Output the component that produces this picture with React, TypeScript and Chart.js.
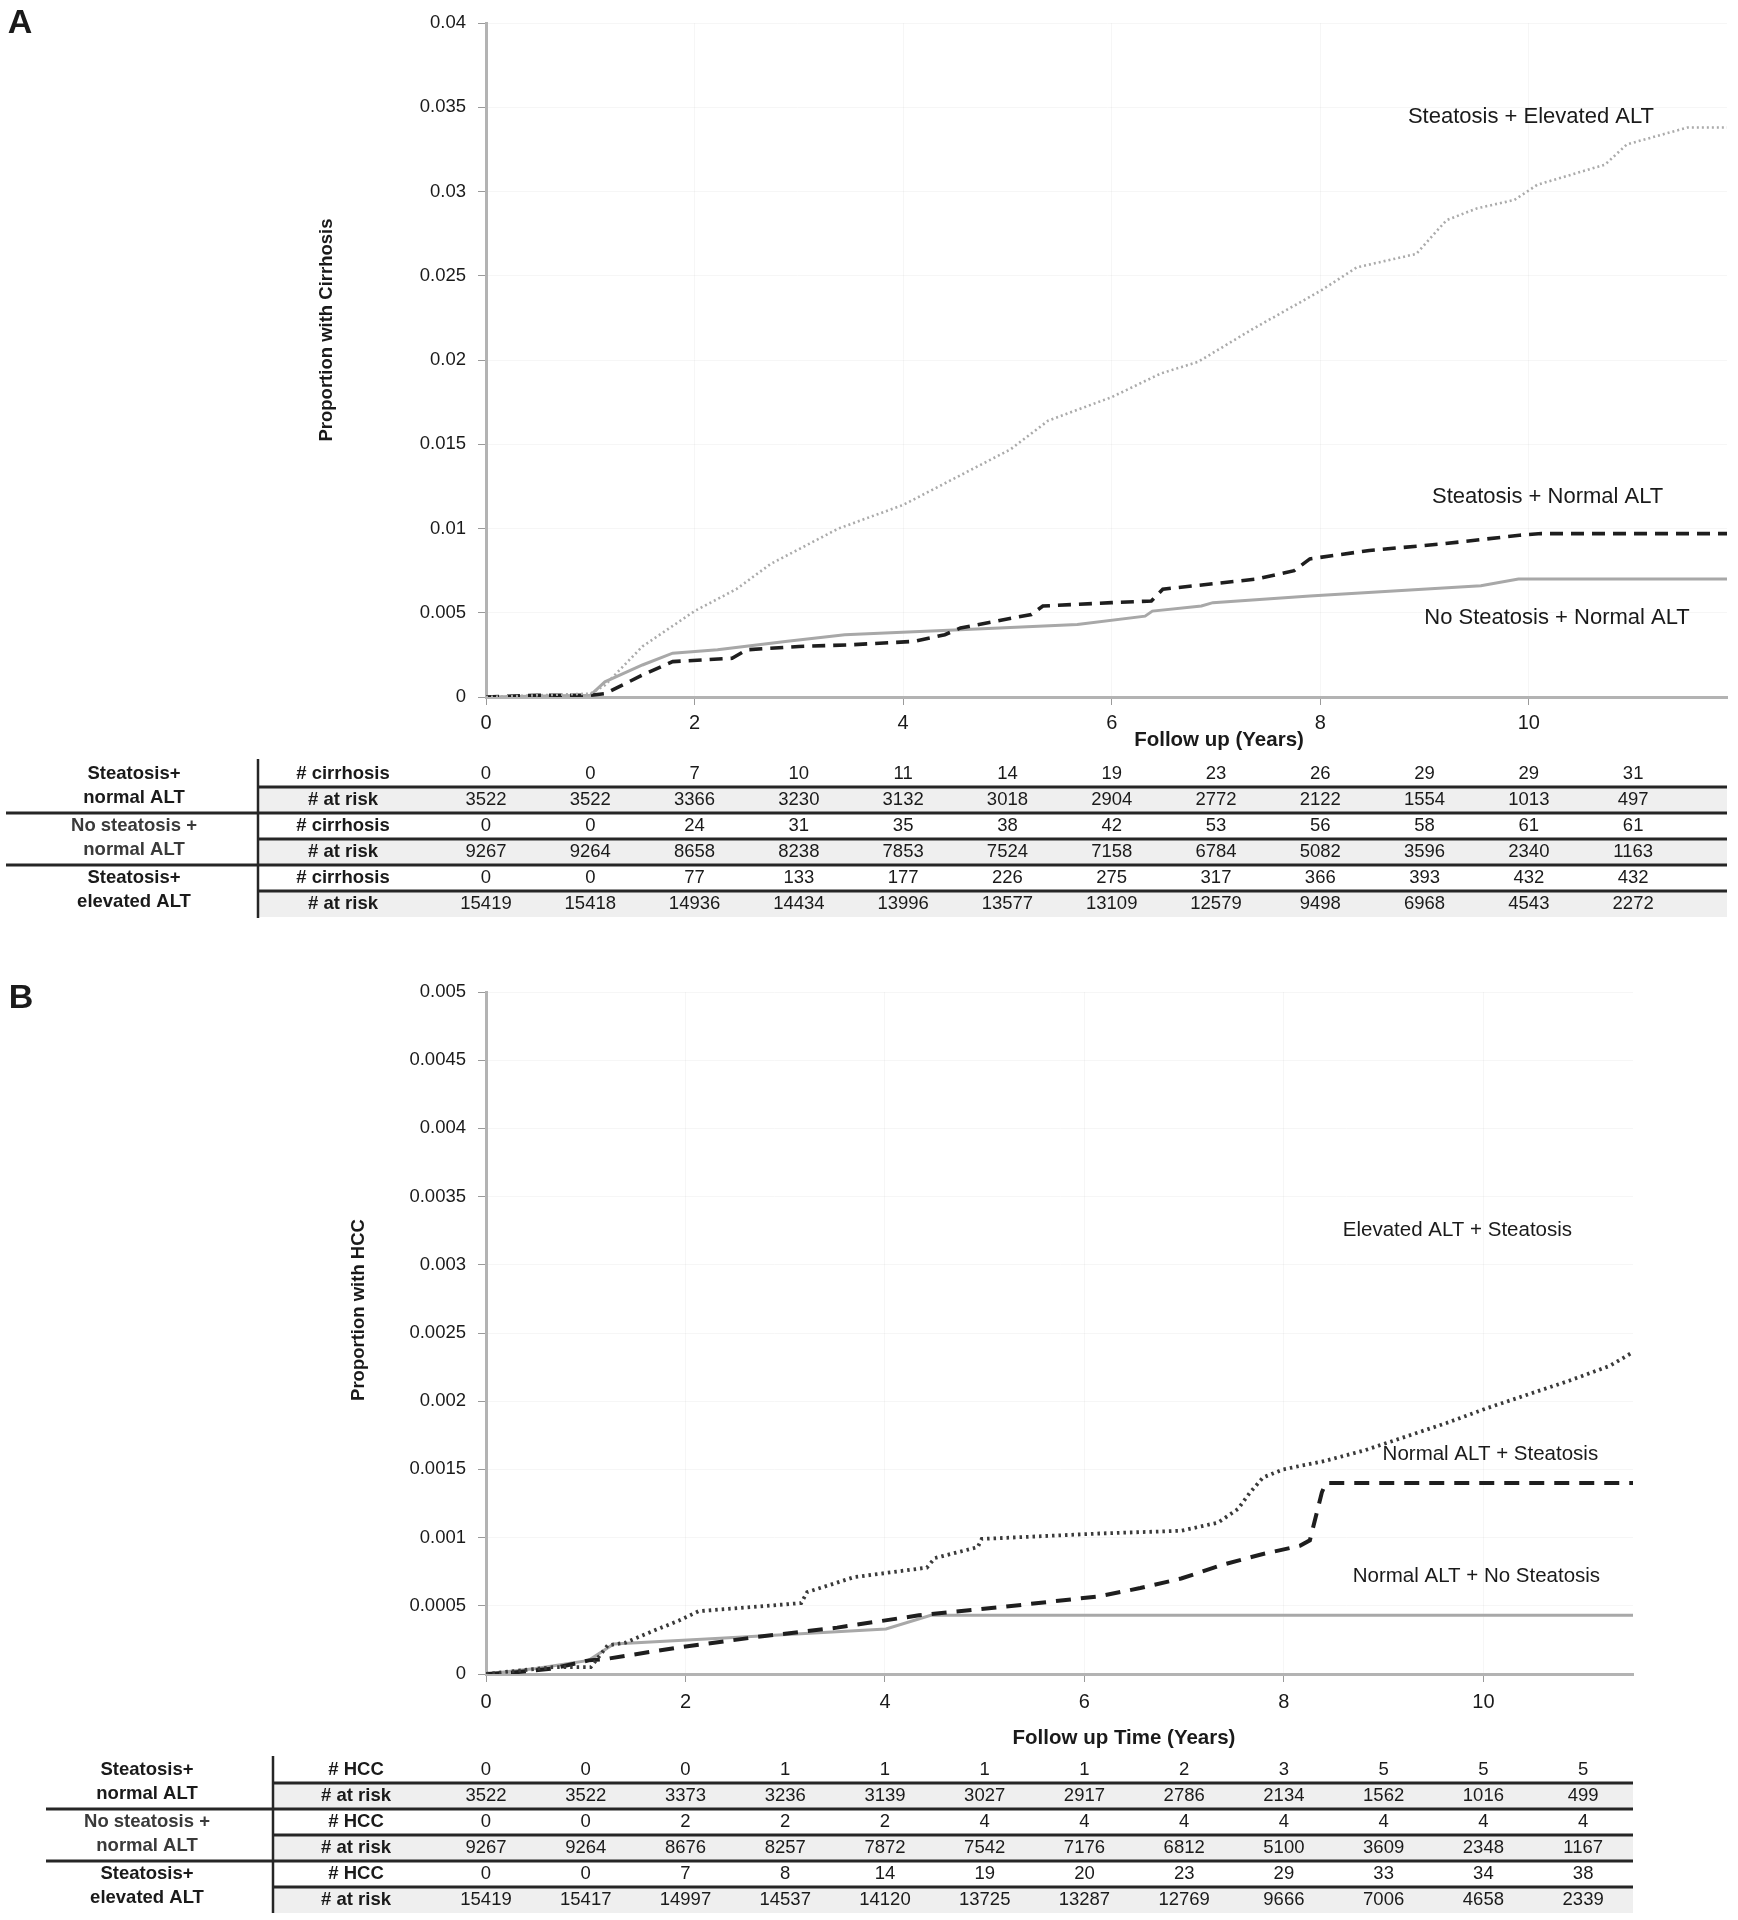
import React, { useEffect, useRef } from 'react';
import { Chart, registerables } from 'chart.js';

Chart.register(...registerables);

const FONT = "'Liberation Sans', Arial, Helvetica, sans-serif";

// ---------- Panel A : cirrhosis ----------
const cirrElevT = [0, 0.5, 1.0, 1.14, 1.5, 2.0, 2.4, 2.73, 3.38, 4.0, 4.53, 5.03, 5.39, 6.0, 6.47, 6.83, 7.34, 8.0, 8.35, 8.92, 9.21, 9.5, 9.86, 10.08, 10.73, 10.94, 11.52, 11.9];
const cirrElevP = [0, 0.0001, 0.0002, 0.0007, 0.003, 0.0051, 0.0064, 0.0079, 0.01, 0.0114, 0.0131, 0.0147, 0.0164, 0.0178, 0.0192, 0.0199, 0.0218, 0.0241, 0.0255, 0.0263, 0.0283, 0.029, 0.0295, 0.0304, 0.0316, 0.0328, 0.0338, 0.0338];

const cirrNormT = [0, 0.5, 1.0, 1.14, 1.5, 1.79, 2.36, 2.5, 3.0, 3.5, 4.1, 4.4, 4.55, 5.23, 5.34, 6.0, 6.38, 6.49, 7.39, 7.75, 7.9, 8.47, 9.19, 9.91, 10.12, 11.9];
const cirrNormP = [0, 0.0001, 0.0001, 0.0002, 0.0013, 0.0021, 0.0023, 0.0028, 0.003, 0.0031, 0.0033, 0.0037, 0.0041, 0.0049, 0.0054, 0.0056, 0.0057, 0.0064, 0.007, 0.0075, 0.0082, 0.0087, 0.0091, 0.0096, 0.0097, 0.0097];

const cirrNoT = [0, 1.0, 1.14, 1.5, 1.79, 2.22, 2.87, 3.44, 4.6, 5.67, 6.32, 6.39, 6.86, 6.97, 7.9, 9.54, 9.9, 11.9];
const cirrNoP = [0, 0.0001, 0.0009, 0.0019, 0.0026, 0.0028, 0.0033, 0.0037, 0.004, 0.0043, 0.0048, 0.0051, 0.0054, 0.0056, 0.006, 0.0066, 0.007, 0.007];

const cirrNormalEvents = [0, 0, 7, 10, 11, 14, 19, 23, 26, 29, 29, 31];
const cirrNormalAtRisk = [3522, 3522, 3366, 3230, 3132, 3018, 2904, 2772, 2122, 1554, 1013, 497];
const cirrNoSteatEvents = [0, 0, 24, 31, 35, 38, 42, 53, 56, 58, 61, 61];
const cirrNoSteatAtRisk = [9267, 9264, 8658, 8238, 7853, 7524, 7158, 6784, 5082, 3596, 2340, 1163];
const cirrElevEvents = [0, 0, 77, 133, 177, 226, 275, 317, 366, 393, 432, 432];
const cirrElevAtRisk = [15419, 15418, 14936, 14434, 13996, 13577, 13109, 12579, 9498, 6968, 4543, 2272];

// ---------- Panel B : HCC ----------
const hccElevT = [0, 0.26, 0.67, 1.05, 1.22, 1.4, 1.69, 1.93, 2.13, 3.16, 3.22, 3.69, 4.42, 4.5, 4.93, 4.97, 6.15, 6.97, 7.34, 7.54, 7.66, 7.79, 7.99, 8.4, 8.81, 9.22, 9.63, 10.04, 10.45, 10.86, 11.27, 11.5];
const hccElevP = [0, 0.00002, 0.00005, 0.00005, 0.00021, 0.00023, 0.00032, 0.00039, 0.00046, 0.00052, 0.0006, 0.00071, 0.00078, 0.00085, 0.00093, 0.00099, 0.00103, 0.00105, 0.00111, 0.00121, 0.00133, 0.00144, 0.0015, 0.00156, 0.00164, 0.00174, 0.00184, 0.00195, 0.00205, 0.00215, 0.00226, 0.00236];

const hccNormT = [0, 0.26, 0.67, 1.03, 1.2, 1.89, 2.7, 3.52, 4.34, 5.16, 6.15, 6.56, 6.97, 7.38, 7.79, 8.16, 8.26, 8.38, 8.42, 11.5];
const hccNormP = [0, 0.00001, 0.00004, 0.0001, 0.00011, 0.00019, 0.00027, 0.00034, 0.00043, 0.00049, 0.00057, 0.00063, 0.0007, 0.0008, 0.00088, 0.00094, 0.00098, 0.00133, 0.0014, 0.0014];

const hccNoT = [0, 0.5, 1.03, 1.28, 2.3, 4.01, 4.46, 11.5];
const hccNoP = [0, 0.00004, 0.0001, 0.00022, 0.00026, 0.00033, 0.00043, 0.00043];

const hccNormalEvents = [0, 0, 0, 1, 1, 1, 1, 2, 3, 5, 5, 5];
const hccNormalAtRisk = [3522, 3522, 3373, 3236, 3139, 3027, 2917, 2786, 2134, 1562, 1016, 499];
const hccNoSteatEvents = [0, 0, 2, 2, 2, 4, 4, 4, 4, 4, 4, 4];
const hccNoSteatAtRisk = [9267, 9264, 8676, 8257, 7872, 7542, 7176, 6812, 5100, 3609, 2348, 1167];
const hccElevEvents = [0, 0, 7, 8, 14, 19, 20, 23, 29, 33, 34, 38];
const hccElevAtRisk = [15419, 15417, 14997, 14537, 14120, 13725, 13287, 12769, 9666, 7006, 4658, 2339];

// table columns (years)
const tableYears = [0, 1, 2, 3, 4, 5, 6, 7, 8, 9, 10, 11];

const groupNames = [
  ['Steatosis+', 'normal ALT'],
  ['No steatosis +', 'normal ALT'],
  ['Steatosis+', 'elevated ALT'],
];

type Series = { label: string; x: number[]; y: number[]; color: string; width: number; dash: number[]; cap: CanvasLineCap };
type Note = { text: string; x: number; y: number };

type PanelCfg = {
  top: number; height: number; padTop: number; padRight: number; xAxisH: number;
  xMax: number; yMax: number; yStep: number; xTickPad: number;
  series: Series[]; notes: Note[]; noteSize: number;
  letter: string; letterX: number; letterY: number;
  xTitle: string; xTitleX: number; xTitleY: number;
  yTitle: string; yTitleX: number; yTitleY: number;
  eventLabel: string; groups: { events: number[]; atRisk: number[] }[];
  tRow0: number; tRowH: number; tVX: number; tVTop: number; tVBot: number; tGX0: number; tGroupX: number; tRowLabelX: number;
};

const panelA: PanelCfg = {
  top: 0, height: 935, padTop: 19, padRight: 11, xAxisH: 238,
  xMax: 11.9, yMax: 0.04, yStep: 0.005, xTickPad: 6,
  series: [
    { label: 'Steatosis + Elevated ALT', x: cirrElevT, y: cirrElevP, color: '#ababab', width: 2.6, dash: [2, 3], cap: 'butt' },
    { label: 'Steatosis + Normal ALT', x: cirrNormT, y: cirrNormP, color: '#1e1e1e', width: 3.6, dash: [13, 8], cap: 'butt' },
    { label: 'No Steatosis + Normal ALT', x: cirrNoT, y: cirrNoP, color: '#a8a8a8', width: 3, dash: [], cap: 'butt' },
  ],
  notes: [
    { text: 'Steatosis + Elevated ALT', x: 10.02, y: 0.03445 },
    { text: 'Steatosis + Normal ALT', x: 10.18, y: 0.01186 },
    { text: 'No Steatosis + Normal ALT', x: 10.27, y: 0.00472 },
  ],
  noteSize: 22,
  letter: 'A', letterX: 20, letterY: 24,
  xTitle: 'Follow up (Years)', xTitleX: 1219, xTitleY: 740,
  yTitle: 'Proportion with Cirrhosis', yTitleX: 327, yTitleY: 330,
  eventLabel: '# cirrhosis',
  groups: [
    { events: cirrNormalEvents, atRisk: cirrNormalAtRisk },
    { events: cirrNoSteatEvents, atRisk: cirrNoSteatAtRisk },
    { events: cirrElevEvents, atRisk: cirrElevAtRisk },
  ],
  tRow0: 774, tRowH: 26, tVX: 258, tVTop: 759, tVBot: 918, tGX0: 6, tGroupX: 134, tRowLabelX: 343,
};

const panelB: PanelCfg = {
  top: 960, height: 960, padTop: 32, padRight: 105, xAxisH: 246,
  xMax: 11.5, yMax: 0.005, yStep: 0.0005, xTickPad: 8,
  series: [
    { label: 'Elevated ALT + Steatosis', x: hccElevT, y: hccElevP, color: '#3a3a3a', width: 3.8, dash: [2.5, 4], cap: 'butt' },
    { label: 'Normal ALT + Steatosis', x: hccNormT, y: hccNormP, color: '#1e1e1e', width: 4, dash: [15, 10], cap: 'butt' },
    { label: 'Normal ALT + No Steatosis', x: hccNoT, y: hccNoP, color: '#a8a8a8', width: 3, dash: [], cap: 'butt' },
  ],
  notes: [
    { text: 'Elevated ALT + Steatosis', x: 9.74, y: 0.003255 },
    { text: 'Normal ALT + Steatosis', x: 10.07, y: 0.001613 },
    { text: 'Normal ALT + No Steatosis', x: 9.93, y: 0.000718 },
  ],
  noteSize: 20.5,
  letter: 'B', letterX: 21, letterY: 39,
  xTitle: 'Follow up Time (Years)', xTitleX: 1124, xTitleY: 778,
  yTitle: 'Proportion with HCC', yTitleX: 359, yTitleY: 350,
  eventLabel: '# HCC',
  groups: [
    { events: hccNormalEvents, atRisk: hccNormalAtRisk },
    { events: hccNoSteatEvents, atRisk: hccNoSteatAtRisk },
    { events: hccElevEvents, atRisk: hccElevAtRisk },
  ],
  tRow0: 810, tRowH: 26, tVX: 273, tVTop: 796, tVBot: 953, tGX0: 46, tGroupX: 147, tRowLabelX: 356,
};

function fmt(v: number): string {
  if (Math.abs(v) < 1e-12) return '0';
  return String(parseFloat(v.toFixed(5)));
}

function Panel({ cfg }: { cfg: PanelCfg }) {
  const ref = useRef<HTMLCanvasElement>(null);
  useEffect(() => {
    const p = cfg;
    const overlay = {
      id: 'overlay' + p.letter,
      afterDraw(chart: any) {
        const ctx: CanvasRenderingContext2D = chart.ctx;
        const xs = chart.scales.x;
        const ys = chart.scales.y;
        const right = chart.chartArea.right;
        ctx.save();
        ctx.fillStyle = '#1a1a1a';
        ctx.textAlign = 'center';
        ctx.textBaseline = 'middle';
        // curve labels
        ctx.font = `${p.noteSize}px ${FONT}`;
        p.notes.forEach((n) => ctx.fillText(n.text, xs.getPixelForValue(n.x), ys.getPixelForValue(n.y)));
        // panel letter
        ctx.font = `bold 34px ${FONT}`;
        ctx.fillText(p.letter, p.letterX, p.letterY);
        // axis titles
        ctx.font = `bold 20.5px ${FONT}`;
        ctx.fillText(p.xTitle, p.xTitleX, p.xTitleY);
        ctx.save();
        ctx.translate(p.yTitleX, p.yTitleY);
        ctx.rotate(-Math.PI / 2);
        ctx.font = `bold 18.5px ${FONT}`;
        ctx.fillText(p.yTitle, 0, 0);
        ctx.restore();

        // risk table
        const rowY = (i: number) => p.tRow0 + i * p.tRowH;
        const h = p.tRowH;
        ctx.fillStyle = '#efefef';
        for (let g = 0; g < 3; g++) {
          const i = 2 * g + 1;
          ctx.fillRect(p.tVX, rowY(i) - h / 2, right - p.tVX, h);
        }
        ctx.strokeStyle = '#262626';
        ctx.lineWidth = 3;
        for (let i = 0; i < 5; i++) {
          const y = rowY(i) + h / 2;
          const x0 = i % 2 === 0 ? p.tVX : p.tGX0;
          ctx.beginPath();
          ctx.moveTo(x0, y);
          ctx.lineTo(right, y);
          ctx.stroke();
        }
        ctx.lineWidth = 2.5;
        ctx.beginPath();
        ctx.moveTo(p.tVX, p.tVTop);
        ctx.lineTo(p.tVX, p.tVBot);
        ctx.stroke();

        p.groups.forEach((g, gi) => {
          const r0 = rowY(2 * gi);
          const r1 = rowY(2 * gi + 1);
          ctx.font = `bold 18.5px ${FONT}`;
          ctx.fillStyle = gi === 1 ? '#3a3a3a' : '#1a1a1a';
          ctx.fillText(groupNames[gi][0], p.tGroupX, r0);
          ctx.fillText(groupNames[gi][1], p.tGroupX, r1 - 2);
          ctx.fillStyle = '#1a1a1a';
          ctx.fillText(p.eventLabel, p.tRowLabelX, r0);
          ctx.fillText('# at risk', p.tRowLabelX, r1);
          ctx.font = `18.5px ${FONT}`;
          tableYears.forEach((yr, k) => {
            const x = xs.getPixelForValue(yr);
            ctx.fillText(String(g.events[k]), x, r0);
            ctx.fillText(String(g.atRisk[k]), x, r1);
          });
        });
        ctx.restore();
      },
    };

    const chart = new Chart(ref.current as HTMLCanvasElement, {
      type: 'line',
      data: {
        datasets: p.series.map((s) => ({
          label: s.label,
          data: s.x.map((x, i) => ({ x, y: s.y[i] })),
          borderColor: s.color,
          borderWidth: s.width,
          borderDash: s.dash,
          borderCapStyle: s.cap,
          pointRadius: 0,
          tension: 0,
          fill: false,
        })),
      },
      options: {
        responsive: false,
        maintainAspectRatio: false,
        animation: false,
        devicePixelRatio: 1,
        layout: { padding: { left: 0, right: p.padRight, top: p.padTop, bottom: 0 } },
        plugins: { legend: { display: false }, tooltip: { enabled: false }, title: { display: false } },
        scales: {
          x: {
            type: 'linear',
            min: 0,
            max: p.xMax,
            afterFit: (s: any) => { s.height = p.xAxisH; },
            ticks: {
              stepSize: 2,
              includeBounds: false,
              maxRotation: 0,
              autoSkip: false,
              padding: p.xTickPad,
              color: '#1a1a1a',
              font: { family: FONT, size: 20 },
            },
            grid: { color: 'rgba(0,0,0,0.035)', tickColor: '#9a9a9a', tickLength: 8 },
            border: { color: '#b3b3b3', width: 3 },
          },
          y: {
            type: 'linear',
            min: 0,
            max: p.yMax,
            afterFit: (s: any) => { s.width = 486; },
            ticks: {
              stepSize: p.yStep,
              padding: 12,
              color: '#1a1a1a',
              font: { family: FONT, size: 18.5 },
              callback: (v: any) => fmt(Number(v)),
            },
            grid: { color: 'rgba(0,0,0,0.035)', tickColor: '#9a9a9a', tickLength: 8 },
            border: { color: '#b3b3b3', width: 3 },
          },
        },
      } as any,
      plugins: [overlay],
    });
    return () => chart.destroy();
  }, [cfg]);
  return (
    <canvas
      ref={ref}
      width={1738}
      height={cfg.height}
      style={{ position: 'absolute', left: 0, top: cfg.top, width: 1738, height: cfg.height, display: 'block' }}
    />
  );
}

export default function App() {
  return (
    <div style={{ position: 'absolute', left: 0, top: 0, width: 1738, height: 1920, background: '#ffffff', overflow: 'hidden' }}>
      <Panel cfg={panelA} />
      <Panel cfg={panelB} />
    </div>
  );
}
